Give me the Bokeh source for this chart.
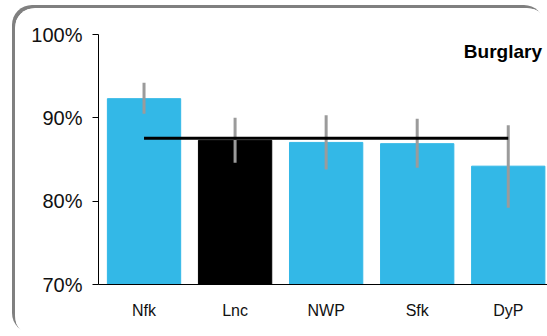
from bokeh.plotting import figure
from bokeh.models import Range1d, FixedTicker, PrintfTickFormatter, Label, ColumnDataSource
from bokeh.embed import file_html
from bokeh.resources import INLINE

categories = ["Nfk", "Lnc", "NWP", "Sfk", "DyP"]
values = [92.3, 87.3, 87.05, 86.9, 84.2]
err_low = [90.5, 84.6, 83.8, 84.0, 79.2]
err_high = [94.2, 90.0, 90.3, 89.9, 89.1]
average = 87.56
colors = ["#33b8e7", "#000000", "#33b8e7", "#33b8e7", "#33b8e7"]
y_ticks = [70, 80, 90, 100]
title_text = "Burglary"

xs = list(range(len(categories)))
src = ColumnDataSource(dict(x=xs, top=values, lo=err_low, hi=err_high, color=colors))

p = figure(width=532, height=328, output_backend="svg", toolbar_location=None,
           x_range=Range1d(-0.5, 4.431), y_range=Range1d(70, 100),
           min_border_left=83, min_border_right=0, min_border_top=26, min_border_bottom=52)
p.styles = {"box-shadow": "-3px -3px 0 0 #808080", "border-radius": "20px", "overflow": "hidden",
            "margin-left": "15px", "margin-top": "8px"}

p.vbar(x="x", top="top", bottom=70, width=0.805, color="color", source=src)
p.segment(x0="x", x1="x", y0="lo", y1="hi", line_color="#9b9b9b", line_width=3, source=src)
p.line(x=[xs[0], xs[-1]], y=[average, average], line_color="#000000", line_width=3)

p.xgrid.visible = False
p.ygrid.visible = False
p.outline_line_color = None

font = "Liberation Sans"
xa = p.xaxis[0]
xa.ticker = FixedTicker(ticks=xs)
xa.major_label_overrides = {i: c for i, c in enumerate(categories)}
xa.major_tick_line_color = None
xa.major_tick_out = 0
xa.major_tick_in = 0
xa.minor_tick_line_color = None
xa.axis_line_color = "#000000"
xa.axis_line_width = 1
xa.major_label_text_font = font
xa.major_label_text_font_size = "16px"
xa.major_label_text_color = "#111111"
xa.major_label_standoff = 17

ya = p.yaxis[0]
ya.ticker = FixedTicker(ticks=y_ticks)
ya.formatter = PrintfTickFormatter(format="%d%%")
ya.major_tick_out = 6
ya.major_tick_in = 0
ya.minor_tick_line_color = None
ya.axis_line_color = "#000000"
ya.major_tick_line_color = "#000000"
ya.major_label_text_font = font
ya.major_label_text_font_size = "20px"
ya.major_label_text_color = "#111111"
ya.major_label_standoff = 10

p.add_layout(Label(x=4.37, y=98.0, text=title_text, text_align="right", text_baseline="alphabetic",
                   text_font=font, text_font_size="19px", text_font_style="bold", text_color="#000000"))

open("out.html", "w").write(file_html(p, INLINE))
